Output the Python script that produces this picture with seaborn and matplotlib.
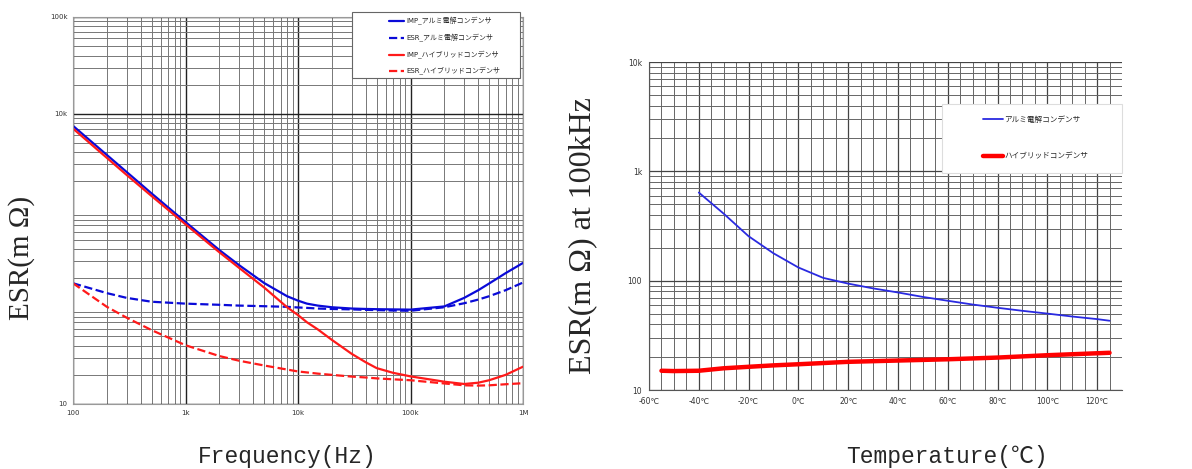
import matplotlib
matplotlib.use("Agg")
import numpy as np
import pandas as pd
import matplotlib.pyplot as plt
import seaborn as sns
from matplotlib.patches import Rectangle
from matplotlib.ticker import FixedLocator, FixedFormatter, LogLocator, NullFormatter, MultipleLocator

# ----------------------------
# Data
# ----------------------------
freq_hz = [100, 200, 300, 500, 1e3, 2e3, 3e3, 5e3, 8e3, 1e4, 1.2e4, 1.5e4, 2e4,
           3e4, 4e4, 5e4, 7e4, 1e5, 2e5, 3e5, 4e5, 5e5, 7e5, 1e6]
imp_alu = [7500, 3750, 2500, 1500, 760, 390, 272, 178, 130, 117, 109, 104, 100,
           97, 96, 95.5, 95, 94.5, 102, 125, 150, 176, 225, 287]
esr_alu = [177, 140, 125, 114, 109, 106, 104, 102.5, 101, 99.5, 98.5, 97, 96,
           95, 94, 93.5, 92.5, 92, 100, 110, 120, 130, 150, 180]
imp_hyb = [7030, 3500, 2330, 1410, 720, 370, 255, 160, 100, 83, 70, 59, 46,
           33, 27, 23.5, 21, 19.3, 17, 16.1, 16.6, 17.6, 20, 24.3]
esr_hyb = [177, 101, 78, 58, 40.5, 31.3, 28, 25, 22.7, 21.7, 21.2, 20.6, 20,
           19.2, 18.8, 18.4, 18, 17.6, 16.3, 15.6, 15.5, 15.6, 16, 16.4]

freq_ticks = [100, 1e3, 1e4, 1e5, 1e6]
freq_labels = ["100", "1k", "10k", "100k", "1M"]
left_y_ticks = [10, 1e4, 1e5]
left_y_labels = ["10", "10k", "100k"]

temp_alu = [-40, -30, -20, -10, 0, 10, 20, 30, 40, 50, 60, 70, 80, 90, 100, 110, 120, 125]
esr_temp_alu = [640, 410, 255, 178, 132, 106, 94, 85, 78, 71, 65.5, 60.5, 56.5, 53, 50, 47, 44.5, 43]
temp_hyb = [-55, -50, -40, -30, -20, -10, 0, 20, 40, 60, 80, 100, 125]
esr_temp_hyb = [15, 14.9, 15, 15.8, 16.3, 16.8, 17.2, 18.1, 18.6, 19.1, 19.8, 20.8, 21.9]

temp_ticks = [-60, -40, -20, 0, 20, 40, 60, 80, 100, 120]
temp_labels = [f"{t}℃" for t in temp_ticks]
right_y_ticks = [10, 100, 1e3, 1e4]
right_y_labels = ["10", "100", "1k", "10k"]

label_alu = "アルミ電解コンデンサ"
label_hyb = "ハイブリッドコンデンサ"

sns.set_style("white")
plt.rcParams["font.family"] = ["DejaVu Sans", "Noto Sans CJK JP"]
mono_font = ["Liberation Mono", "Noto Sans CJK JP"]
serif_font = ["Liberation Serif", "Noto Sans CJK JP"]
legend_prop = {"family": ["DejaVu Sans", "Noto Sans CJK JP"]}

W, H = 1192, 469
fig = plt.figure(figsize=(W / 100, H / 100), dpi=100)
ax1 = fig.add_axes([73 / W, 1 - 404 / H, 450 / W, 387 / H])
ax2 = fig.add_axes([649 / W, 1 - 390 / H, 473 / W, 328 / H])


def fig_box(x0, y0, x1, y1, edge):
    # white legend frame given in picture pixels
    fig.add_artist(Rectangle((x0 / W, 1 - y1 / H), (x1 - x0) / W, (y1 - y0) / H,
                             transform=fig.transFigure, facecolor="white",
                             edgecolor=edge, linewidth=0.8, zorder=3))


# ----------------------------
# 1. Frequency characteristics
# ----------------------------
freq_df = pd.DataFrame({"f": freq_hz, "imp_alu": imp_alu, "esr_alu": esr_alu,
                        "imp_hyb": imp_hyb, "esr_hyb": esr_hyb})
series = [("imp_alu", "IMP_" + label_alu, "#0a0ad8", "-"),
          ("esr_alu", "ESR_" + label_alu, "#0a0ad8", "--"),
          ("imp_hyb", "IMP_" + label_hyb, "#ff1a1a", "-"),
          ("esr_hyb", "ESR_" + label_hyb, "#ff1a1a", "--")]
for col, lab, c, ls in series:
    sns.lineplot(data=freq_df, x="f", y=col, ax=ax1, color=c, linestyle=ls,
                 linewidth=1.6, label=lab, estimator=None, sort=False)
ax1.set_xscale("log")
ax1.set_yscale("log")
ax1.set_xlim(100, 1e6)
ax1.set_ylim(10, 1e5)
ax1.xaxis.set_major_locator(FixedLocator(freq_ticks))
ax1.xaxis.set_major_formatter(FixedFormatter(freq_labels))
ax1.yaxis.set_major_locator(FixedLocator(left_y_ticks))
ax1.yaxis.set_major_formatter(FixedFormatter(left_y_labels))
for axis in (ax1.xaxis, ax1.yaxis):
    axis.set_minor_locator(LogLocator(base=10, subs=np.arange(2, 10)))
    axis.set_minor_formatter(NullFormatter())
ax1.grid(True, which="major", color="#222222", linewidth=1.0)
ax1.grid(True, which="minor", color="#777777", linewidth=0.7)
ax1.tick_params(which="both", length=2, labelsize=5, colors="#333333", pad=2)
ax1.tick_params(which="minor", length=0)
for s in ax1.spines.values():
    s.set_color("#999999")
    s.set_linewidth(0.8)
ax1.set_xlabel("")
ax1.set_ylabel("")
h1, l1 = ax1.get_legend_handles_labels()
ax1.get_legend().remove()
fig_box(352, 12, 520, 78, "#666666")
leg1 = fig.legend(h1, l1, loc="upper left", bbox_to_anchor=(389 / W, 1 - 17 / H),
                  frameon=False, handlelength=2.2, handletextpad=0.3,
                  labelspacing=1.25, borderpad=0, borderaxespad=0,
                  prop={**legend_prop, "size": 5})
leg1.set_zorder(5)

# ----------------------------
# 2. Temperature characteristics
# ----------------------------
alu_df = pd.DataFrame({"T": temp_alu, "esr": esr_temp_alu})
hyb_df = pd.DataFrame({"T": temp_hyb, "esr": esr_temp_hyb})
sns.lineplot(data=alu_df, x="T", y="esr", ax=ax2, color="#2a2ae0",
             linewidth=1.3, label=label_alu, estimator=None)
sns.lineplot(data=hyb_df, x="T", y="esr", ax=ax2, color="#ff0000",
             linewidth=3.2, label=label_hyb, estimator=None)
ax2.set_yscale("log")
ax2.set_xlim(-60, 130)
ax2.set_ylim(10, 1e4)
ax2.xaxis.set_major_locator(FixedLocator(temp_ticks))
ax2.xaxis.set_major_formatter(FixedFormatter(temp_labels))
ax2.xaxis.set_minor_locator(MultipleLocator(5))
ax2.yaxis.set_major_locator(FixedLocator(right_y_ticks))
ax2.yaxis.set_major_formatter(FixedFormatter(right_y_labels))
ax2.yaxis.set_minor_locator(LogLocator(base=10, subs=np.arange(2, 10)))
ax2.yaxis.set_minor_formatter(NullFormatter())
ax2.grid(True, which="major", color="#444444", linewidth=0.9)
ax2.grid(True, which="minor", color="#666666", linewidth=0.7)
ax2.tick_params(which="both", length=3, labelsize=5.5, colors="#333333", pad=2)
ax2.tick_params(which="minor", length=0)
for side in ("top", "right"):
    ax2.spines[side].set_visible(False)
for side in ("left", "bottom"):
    ax2.spines[side].set_color("#555555")
ax2.set_xlabel("")
ax2.set_ylabel("")
h2, l2 = ax2.get_legend_handles_labels()
ax2.get_legend().remove()
fig_box(942, 104, 1122, 173, "#dddddd")
leg2 = fig.legend(h2, l2, loc="upper left", bbox_to_anchor=(983 / W, 1 - 115 / H),
                  frameon=False, handlelength=2.6, handletextpad=0.2,
                  labelspacing=3.6, borderpad=0, borderaxespad=0,
                  prop={**legend_prop, "size": 5.5})
leg2.set_zorder(5)

# ----------------------------
# Axis titles
# ----------------------------
fig.text(287 / W, 1 - 456 / H, "Frequency(Hz)", family=mono_font, fontsize=16.5,
         ha="center", va="center")
fig.text(947 / W, 1 - 456 / H, "Temperature(℃)", family=mono_font, fontsize=16.5,
         ha="center", va="center")
fig.text(22 / W, 1 - 258 / H, "ESR(m Ω)", family=serif_font, fontsize=21,
         rotation=90, ha="center", va="center")
fig.text(583 / W, 1 - 236 / H, "ESR(m Ω) at 100kHz", family=serif_font, fontsize=23,
         rotation=90, ha="center", va="center")

fig.savefig("out.png", dpi=100, facecolor="white")
plt.close(fig)
